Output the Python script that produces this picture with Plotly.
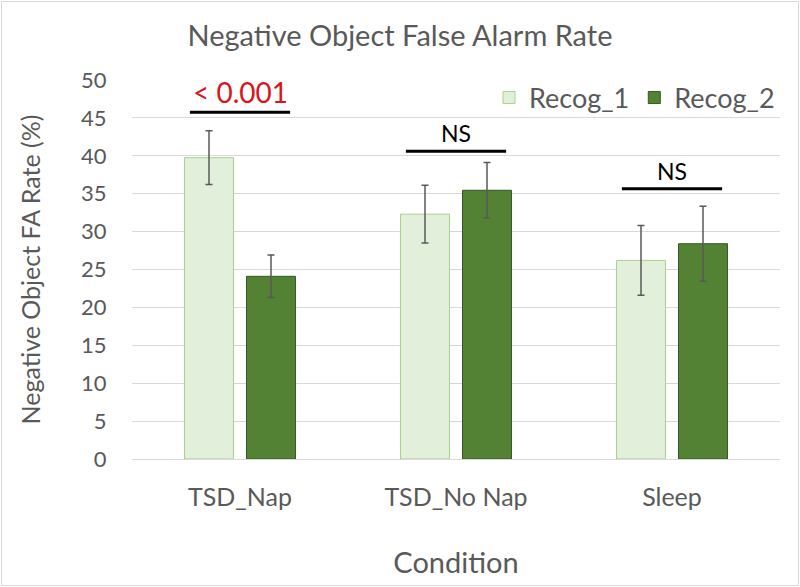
import plotly.graph_objects as go

categories = ["TSD_Nap", "TSD_No Nap", "Sleep"]
recog1 = [39.75, 32.3, 26.2]
recog1_err = [3.55, 3.8, 4.6]
recog2 = [24.1, 35.45, 28.4]
recog2_err = [2.8, 3.65, 4.95]
sig_labels = ["< 0.001", "NS", "NS"]
sig_line_y = [45.75, 40.6, 35.65]
sig_text_y = [48.4, 43.0, 38.0]
y_ticks = [0, 5, 10, 15, 20, 25, 30, 35, 40, 45, 50]

FONT = "Lato, Open Sans, sans-serif"
GREY = "#595959"

fig = go.Figure()
fig.add_trace(go.Bar(
    name="Recog_1", x=categories, y=recog1,
    marker=dict(color="#e2efda", line=dict(color="#a9d08e", width=1)),
    error_y=dict(type="data", array=recog1_err, visible=True, color=GREY, thickness=1.5, width=3.5),
))
fig.add_trace(go.Bar(
    name="Recog_2", x=categories, y=recog2,
    marker=dict(color="#548235", line=dict(color="#375623", width=1)),
    error_y=dict(type="data", array=recog2_err, visible=True, color=GREY, thickness=1.5, width=3.5),
))

shapes = []
annotations = []
for i, (lab, ly, ty) in enumerate(zip(sig_labels, sig_line_y, sig_text_y)):
    shapes.append(dict(type="line", xref="x", yref="y", x0=i - 0.232, x1=i + 0.232,
                       y0=ly, y1=ly, line=dict(color="black", width=3)))
    red = lab.startswith("<")
    annotations.append(dict(x=i, y=ty, xref="x", yref="y", text=lab, showarrow=False,
                            font=dict(family=FONT, size=28 if red else 23,
                                      color="#d9141b" if red else "black"),
                            yanchor="middle"))

# outer chart border
L, R, T, B = 132, 20, 80, 128
pw, ph = 800 - L - R, 587 - T - B
shapes.append(dict(type="rect", xref="paper", yref="paper",
                   x0=(1.5 - L) / pw, x1=(798.5 - L) / pw,
                   y0=-(587 - 1.5 - T - ph) / ph, y1=1 + (T - 1.5) / ph,
                   line=dict(color="#d9d9d9", width=1), layer="below"))

fig.update_layout(
    width=800, height=587,
    margin=dict(l=L, r=R, t=T, b=B),
    paper_bgcolor="white", plot_bgcolor="white",
    barmode="group", bargap=0.426, bargroupgap=0.21,
    font=dict(family=FONT, color=GREY),
    title=dict(text="Negative Object False Alarm Rate", x=0.5, xref="container",
               xanchor="center", y=1 - 36 / 587, yanchor="middle",
               font=dict(family=FONT, size=29, color=GREY)),
    xaxis=dict(title=dict(text="Condition", font=dict(size=29, color=GREY), standoff=42),
               tickfont=dict(size=25, color=GREY), showline=True, linecolor="#d9d9d9",
               ticks="outside", ticklen=16, tickcolor="rgba(0,0,0,0)"),
    yaxis=dict(title=dict(text="Negative Object FA Rate (%)", font=dict(size=25, color=GREY), standoff=33),
               range=[0, 50], tickvals=y_ticks, tickfont=dict(size=22, color=GREY),
               showgrid=True, gridcolor="#d9d9d9", gridwidth=1, zeroline=False,
               ticks="outside", ticklen=20, tickcolor="rgba(0,0,0,0)"),
    legend=dict(orientation="h", x=1, xanchor="right", y=(459 - 98) / 379, yanchor="middle",
                font=dict(size=27, color=GREY), bgcolor="rgba(0,0,0,0)", traceorder="normal"),
    shapes=shapes, annotations=annotations,
)

fig.write_html("out.html")
